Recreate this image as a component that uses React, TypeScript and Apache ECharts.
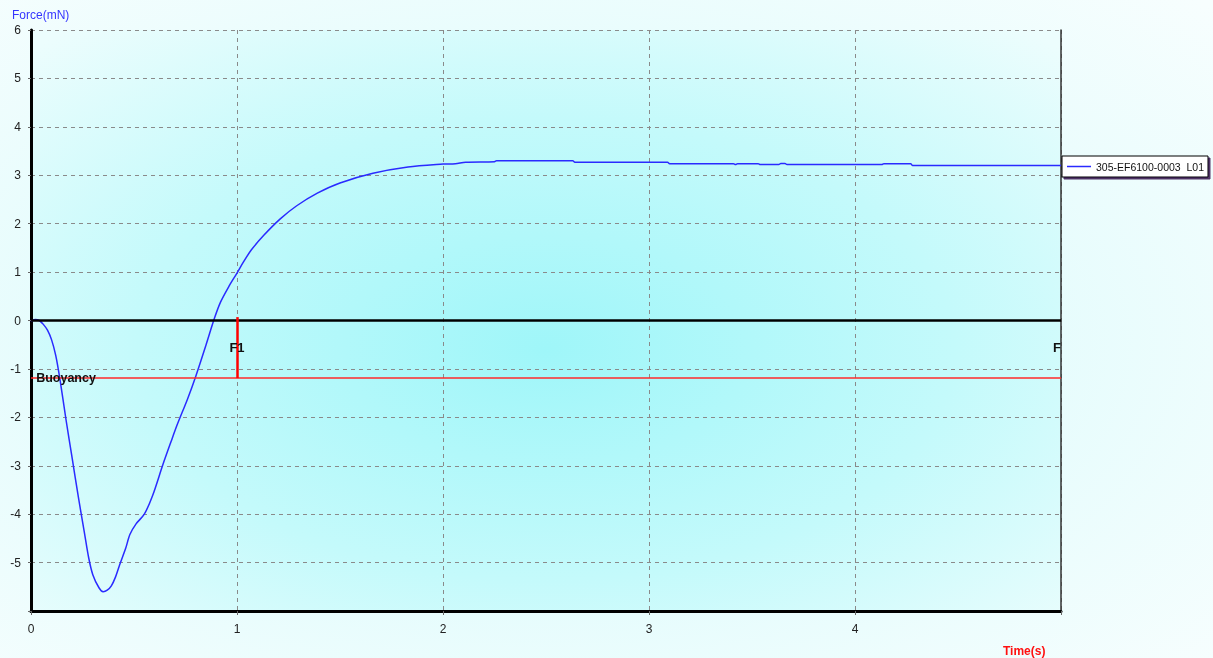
import React, { useEffect, useRef } from "react";
import * as echarts from "echarts";

const seriesName = "305-EF6100-0003  L01";

const times = [
  0, 0.02, 0.04, 0.06, 0.08, 0.1, 0.12, 0.14, 0.17, 0.2, 0.23, 0.26, 0.28, 0.3, 0.33, 0.35,
  0.37, 0.39, 0.41, 0.43, 0.46, 0.48, 0.51, 0.55, 0.59, 0.64, 0.68, 0.71, 0.76, 0.8, 0.85,
  0.89, 0.92, 0.96, 1.0, 1.03, 1.07, 1.13, 1.21, 1.29, 1.39, 1.5, 1.66, 1.83, 2.0, 2.06,
  2.11, 2.25, 2.26, 2.63, 2.64, 3.09, 3.1, 3.41, 3.42, 3.43, 3.53, 3.54, 3.63, 3.64, 3.66,
  3.67, 4.13, 4.14, 4.27, 4.28, 5.0,
];

const forces = [
  -0.02, 0.02, 0.0, -0.08, -0.2, -0.4, -0.72, -1.2, -2.05, -2.85, -3.65, -4.4, -4.9, -5.25,
  -5.52, -5.6, -5.57, -5.48, -5.3, -5.05, -4.7, -4.42, -4.2, -4.0, -3.62, -2.98, -2.5,
  -2.15, -1.62, -1.15, -0.5, 0.04, 0.38, 0.7, 0.98, 1.2, 1.46, 1.76, 2.1, 2.37, 2.63, 2.84,
  3.04, 3.17, 3.23, 3.24, 3.27, 3.28, 3.3, 3.3, 3.27, 3.27, 3.24, 3.24, 3.22, 3.24, 3.24,
  3.22, 3.22, 3.245, 3.245, 3.22, 3.22, 3.24, 3.24, 3.2, 3.2,
];

const buoyancy = -1.19;
const markerTime = 1;
const endTime = 5;
const xTicks = [0, 1, 2, 3, 4];
const yTicks = [-5, -4, -3, -2, -1, 0, 1, 2, 3, 4, 5, 6];

const FONT = "'Liberation Sans', Arial, sans-serif";

export default function App() {
  const ref = useRef<HTMLDivElement>(null);

  useEffect(() => {
    if (!ref.current) return;
    const chart = echarts.init(ref.current, undefined, { renderer: "svg" });
    const data = times.map((t, i) => [t, forces[i]]);
    const labelStyle = {
      show: true,
      color: "#111",
      fontWeight: "bold" as const,
      fontSize: 13,
      fontFamily: FONT,
    };
    chart.setOption({
      animation: false,
      backgroundColor: {
        type: "radial",
        x: 0.45,
        y: 0.52,
        r: 0.75,
        colorStops: [
          { offset: 0, color: "#d2fafb" },
          { offset: 1, color: "#f7fefe" },
        ],
      },
      textStyle: { fontFamily: FONT },
      grid: {
        left: 31,
        top: 30,
        right: 152,
        bottom: 47,
        show: true,
        borderWidth: 0,
        backgroundColor: {
          type: "radial",
          x: 0.5,
          y: 0.55,
          r: 0.72,
          colorStops: [
            { offset: 0, color: "#9ff6f9" },
            { offset: 0.55, color: "#c4fafb" },
            { offset: 1, color: "#ecfdfd" },
          ],
        },
      },
      legend: {
        left: 1062,
        top: 156,
        orient: "vertical",
        backgroundColor: "#ffffff",
        borderColor: "#000",
        borderWidth: 1,
        shadowColor: "rgba(40,0,60,0.8)",
        shadowOffsetX: 2,
        shadowOffsetY: 2,
        shadowBlur: 0,
        padding: [5, 4, 5, 5],
        itemWidth: 24,
        itemHeight: 1.5,
        textStyle: { fontSize: 10.5, color: "#111", fontFamily: FONT },
        data: [{ name: seriesName, icon: "rect" }],
      },
      xAxis: [
        {
          type: "value",
          min: 0,
          max: endTime,
          interval: 1,
          axisLine: { show: true, onZero: false, lineStyle: { color: "#000", width: 3 } },
          axisTick: { show: true, length: 4, lineStyle: { color: "#666" } },
          axisLabel: {
            color: "#222",
            fontSize: 12,
            margin: 12,
            formatter: (v: number) => (xTicks.includes(v) ? String(v) : ""),
          },
          splitLine: { show: true, lineStyle: { color: "#8a8a8a", type: [4, 4], width: 1 } },
        },
      ],
      yAxis: [
        {
          type: "value",
          min: -6,
          max: 6,
          interval: 1,
          axisLine: { show: true, onZero: false, lineStyle: { color: "#000", width: 3 } },
          axisTick: { show: true, length: 3, lineStyle: { color: "#666" } },
          axisLabel: {
            color: "#222",
            fontSize: 12,
            margin: 10,
            formatter: (v: number) => (yTicks.includes(v) ? String(v) : ""),
          },
          splitLine: { show: true, lineStyle: { color: "#8a8a8a", type: [4, 4], width: 1 } },
        },
        {
          type: "value",
          position: "right",
          min: -6,
          max: 6,
          interval: 1,
          axisLine: { show: true, onZero: false, lineStyle: { color: "#333", width: 1.5 } },
          axisTick: { show: false },
          axisLabel: { show: false },
          splitLine: { show: false },
        },
      ],
      graphic: [
        {
          type: "text",
          left: 12,
          top: 9,
          style: { text: "Force(mN)", fill: "#3535ff", fontSize: 12, fontFamily: FONT },
        },
        {
          type: "text",
          left: 1003,
          top: 645,
          style: {
            text: "Time(s)",
            fill: "#ff1010",
            fontSize: 12,
            fontWeight: "bold",
            fontFamily: FONT,
          },
        },
      ],
      series: [
        {
          name: seriesName,
          type: "line",
          data,
          showSymbol: false,
          symbol: "none",
          smooth: 0.3,
          lineStyle: { color: "#2a2aff", width: 1.5 },
          itemStyle: { color: "#2a2aff" },
          z: 3,
          markLine: {
            silent: true,
            symbol: ["none", "none"],
            label: { show: false },
            data: [
              [
                { coord: [0, 0], lineStyle: { color: "#000", width: 2.5, type: "solid" } },
                { coord: [endTime, 0] },
              ],
              [
                { coord: [0, buoyancy], lineStyle: { color: "#ff2a2a", width: 1.5, type: "solid" } },
                { coord: [endTime, buoyancy] },
              ],
              [
                { coord: [markerTime, 0.07], lineStyle: { color: "#ff0000", width: 2.5, type: "solid" } },
                { coord: [markerTime, buoyancy] },
              ],
            ],
          },
          markPoint: {
            silent: true,
            symbol: "circle",
            symbolSize: 1,
            itemStyle: { color: "rgba(0,0,0,0)" },
            data: [
              {
                coord: [markerTime, -0.56],
                label: { ...labelStyle, position: "inside", formatter: "F1", align: "center", verticalAlign: "middle" },
              },
              {
                coord: [endTime, -0.56],
                label: { ...labelStyle, position: "inside", formatter: "F", align: "right", verticalAlign: "middle" },
              },
              {
                coord: [0.025, buoyancy],
                label: { ...labelStyle, fontSize: 12.5, position: "inside", formatter: "Buoyancy", align: "left", verticalAlign: "middle" },
              },
            ],
          },
        },
      ],
    });
    return () => chart.dispose();
  }, []);

  return (
    <div
      ref={ref}
      style={{ position: "fixed", left: 0, top: 0, width: 1213, height: 658 }}
    />
  );
}
